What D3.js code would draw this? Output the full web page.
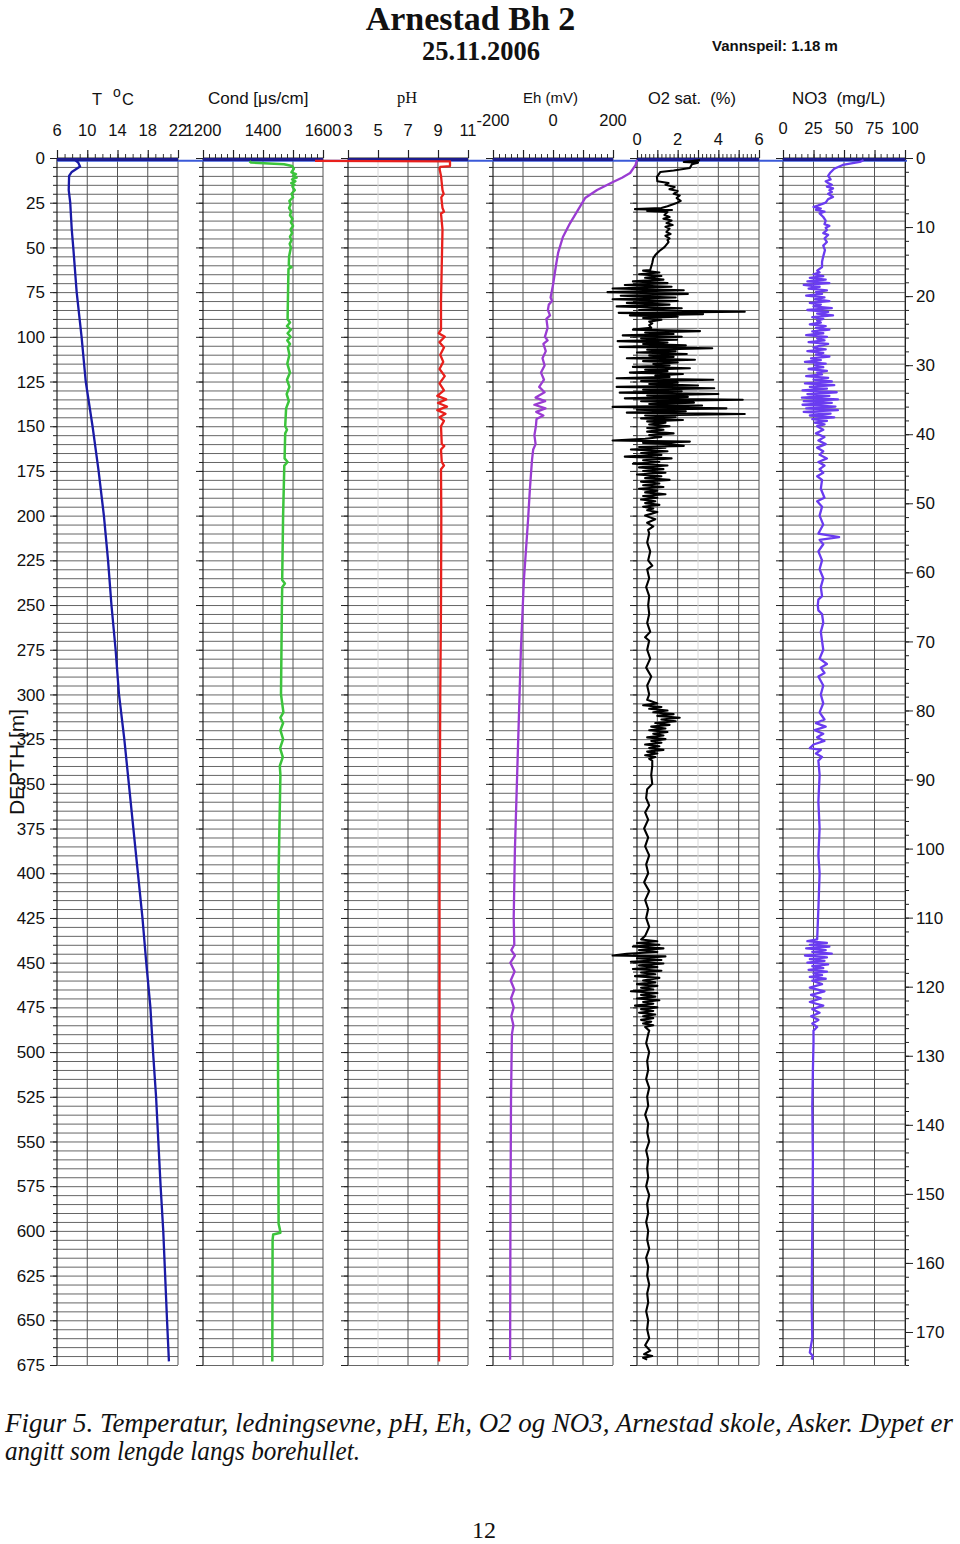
<!DOCTYPE html>
<html><head><meta charset="utf-8">
<script src="https://cdn.jsdelivr.net/npm/d3@7"></script>
<style>body{margin:0;background:#fff}svg{display:block}</style>
</head><body>
<svg id="c" width="960" height="1544"></svg>
<script>
// ---------- DATA: [depth (m), value] ----------
const tempData=[[1.2,8.4],[2.5,8.8],[4.8,9.05],[6.3,8.5],[7.8,7.95],[10,7.6],[18,7.55],[25,7.75],[40,7.95],[50,8.15],[75,8.6],[100,9.25],[125,9.8],[150,10.7],[175,11.5],[200,12.2],[225,12.75],[250,13.2],[275,13.75],[300,14.2],[325,14.9],[350,15.5],[375,16.1],[400,16.7],[425,17.3],[450,17.8],[475,18.35],[500,18.7],[525,19.1],[550,19.4],[575,19.7],[600,20.05],[625,20.3],[650,20.55],[673,20.8]];

const condData=[[1.8,1355],[2.5,1360],[3.5,1470],[4.5,1497],[6,1503],[8,1495],[9,1510],[10,1500],[11,1512],[12,1497],[13,1508],[14,1494],[15,1505],[16,1498],[18,1506],[20,1495],[22,1500],[24,1488],[26,1492],[28,1487],[30,1494],[32,1490],[34,1498],[36,1493],[38,1500],[40,1492],[42,1497],[44,1490],[46,1495],[48,1489],[50,1493],[55,1487],[60,1486],[61,1495],[62,1485],[70,1484],[80,1483],[90,1482],[92,1490],[94,1480],[96,1493],[98,1482],[100,1492],[102,1481],[104,1490],[106,1483],[110,1488],[115,1481],[120,1490],[124,1480],[128,1488],[132,1479],[136,1486],[140,1477],[150,1474],[152,1480],[154,1474],[168,1472],[170,1482],[172,1471],[200,1467],[236,1464],[238,1473],[240,1464],[250,1463],[300,1460],[310,1468],[313,1458],[316,1467],[320,1458],[325,1467],[330,1457],[335,1466],[340,1456],[345,1458],[400,1452],[450,1451],[500,1450],[550,1451],[596,1452],[599,1456],[601,1458],[602,1434],[605,1432],[673,1431]];

const phData=[[1.6,0.8],[1.9,9.8],[4.5,9.8],[5,9.15],[6,9.1],[10,9.2],[14,9.25],[18,9.3],[20,9.38],[22,9.22],[28,9.3],[30,9.4],[31,9.2],[40,9.3],[60,9.25],[80,9.2],[96,9.2],[98,9.05],[100,9.45],[103,9.1],[106,9.4],[110,9.15],[114,9.35],[118,9.1],[122,9.45],[126,9.1],[130,9.4],[133,8.95],[135,9.55],[137,9.0],[139,9.6],[141,8.95],[143,9.5],[145,9.1],[147,9.4],[150,9.2],[160,9.25],[161,9.42],[163,9.2],[170,9.25],[172,9.4],[174,9.2],[200,9.22],[250,9.2],[300,9.15],[400,9.1],[500,9.1],[600,9.08],[673,9.07]];

const ehData=[[1.1,280],[4,275],[8.4,257],[11,230],[13.4,200],[17.9,147],[22.4,107],[29.1,83],[36.4,57],[44.2,33],[53.1,17],[60,10],[71,0],[78,-8],[80,-3],[82,-14],[85,-17],[88,-10],[90,-22],[95,-18],[100,-27],[102,-18],[104,-32],[108,-24],[112,-35],[116,-28],[120,-40],[124,-30],[128,-46],[131,-28],[134,-58],[136,-26],[138,-62],[140,-25],[142,-56],[144,-32],[146,-55],[150,-57],[155,-62],[160,-58],[163,-66],[169,-70],[185,-77],[202,-83],[236,-97],[275,-107],[331,-117],[387,-127],[425,-131],[440,-129],[443,-139],[446,-127],[450,-142],[455,-128],[460,-141],[465,-129],[470,-140],[475,-131],[480,-139],[485,-132],[490,-137],[527,-140],[600,-142],[672,-143]];

const o2Data=[[1.2,3.1],[2.2,2.3],[2.6,3.0],[3.5,2.7],[5.6,2.6],[7.0,1.8],[7.8,1.15],[10.6,0.98],[13.0,1.0],[14,1.55],[15,1.4],[16.2,1.85],[17.5,1.6],[18.5,2.0],[20,1.8],[21,2.1],[22.4,1.95],[24,2.15],[25.2,1.95],[27,1.5],[28,1.2],[28.6,-0.1],[29.1,1.72],[29.6,0.5],[30.2,1.5],[31.9,1.35],[33,1.6],[34,1.3],[35,1.7],[36.4,1.45],[37.5,1.75],[38.5,1.4],[39.5,1.6],[41.4,1.45],[42.5,1.65],[43.5,1.4],[45,1.6],[45.9,1.5],[47,1.55],[49.8,1.35],[52,1.1],[54.3,0.9],[56,0.8],[58.7,0.75],[62.6,0.65],
[63,0.3],[64,1.1],[65,0.1],[66,1.2],[67,0.4],[68,1.3],[69,-0.2],[70,1.5],[71,-0.6],[72,1.7],[73,-1.2],[74,2.3],[75,-1.45],[76,2.5],[77,-0.8],[78,1.9],[79,-1.2],[80,2.0],[81,-0.5],[82,1.6],[83,-1.0],[84,2.2],[85,0.1],[86,5.3],[86.6,-0.9],[87.3,3.25],[88,-0.35],[88.8,2.0],[89.5,0.3],[90.5,1.2],[91.5,0.6],[92.5,0.75],[93.5,0.6],[95,0.7],
[96,-0.2],[96.8,3.1],[97.6,0.4],[98.4,1.8],[99.2,-0.7],[100,2.2],[100.8,0.2],[101.6,1.97],[102.4,-0.95],[103.2,1.5],[104,0.3],[104.8,2.4],[105.6,-0.85],[106.4,3.7],[107.2,0.5],[108,1.9],[108.8,0.0],[109.6,2.45],[110.4,0.6],[111.2,1.8],[112,-0.5],[112.8,2.85],[113.6,0.3],[114.4,2.0],[115.2,0.8],[116,1.6],[116.8,-0.2],[117.6,2.6],[118.4,0.4],[119.2,1.5],[120,-0.35],[120.8,2.26],[121.6,0.9],[122.4,1.6],[123.2,-1.0],[124,3.75],[124.8,0.2],[125.6,2.0],[126.4,0.6],[127.2,3.0],[128,-1.0],[128.8,3.8],[129.6,0.3],[130.4,2.2],[131.2,-0.85],[132,4.0],[132.8,0.5],[133.6,2.5],[134.4,-0.6],[135.2,5.2],[136,0.2],[136.8,2.8],[137.6,0.6],[138.4,3.2],[139.2,-1.2],[140,4.4],[140.8,0.0],[141.6,2.4],[142.4,-0.5],[143.2,5.3],[144,0.4],[144.8,1.9],[145.6,0.2],[146.5,2.26],[147.3,0.5],[148,1.4],[149,0.6],[150,1.6],[151,0.5],[152,1.3],[153,0.5],[154,1.8],[155,0.6],[156,1.2],[157,0.4],
[158,-1.2],[158.6,2.6],[159.3,0.3],[160,1.6],[161,2.3],[161.6,0.1],[162,1.4],[163,-0.3],[164,1.5],[165,0.2],[166,1.2],[167,-0.6],[168,1.7],[169,0.3],[170,1.1],[171,-0.2],[172,1.5],[173,0.1],[174,1.3],[175,0.3],[176,1.4],[177,0.0],[178,1.2],[179,0.4],[180,1.6],[181,0.2],[182,1.1],[183,0.3],[184,1.3],[185,0.1],[186,1.0],[187,0.4],[188,1.4],[189,0.3],[190,1.0],[191,0.2],[192,0.9],[193,0.4],[194,1.1],[195,0.3],[196,0.8],[197,0.5],[198,1.0],[200,0.4],[202,0.9],[204,0.5],[206,0.8],[208,0.55],
[210,0.6],[215,0.5],[220,0.65],[225,0.55],[228,0.75],[230,0.5],[235,0.6],[240,0.45],[245,0.6],[250,0.55],[255,0.6],[260,0.5],[265,0.65],[268,0.4],[270,0.6],[275,0.5],[280,0.65],[285,0.45],[290,0.7],[295,0.5],[300,0.6],
[303,0.5],[305,1.0],[306,0.3],[307,1.2],[308,0.6],[309,1.5],[310,0.8],[311,1.8],[312,1.0],[313,2.1],[314,1.2],[315,1.9],[316,0.9],[317,1.6],[318,0.7],[319,1.4],[320,0.6],[321,1.5],[322,0.8],[323,1.3],[324,0.5],[325,1.4],[326,0.7],[327,1.2],[328,0.4],[329,1.1],[330,0.6],[331,1.3],[332,0.5],[333,1.0],[334,0.4],[335,0.9],[336,0.6],[337,0.75],
[340,0.75],[345,0.7],[350,0.75],[353,0.5],[358,0.45],[362,0.6],[366,0.4],[370,0.55],[375,0.35],[380,0.55],[385,0.4],[390,0.6],[395,0.45],[400,0.55],[405,0.35],[410,0.6],[415,0.4],[420,0.55],[425,0.45],[430,0.6],[435,0.4],
[437,0.2],[438,1.0],[439,0.0],[440,1.1],[441,-0.2],[442,1.3],[443,0.1],[444,1.0],[445,-0.5],[446,-1.2],[446.5,1.4],[447.5,0.0],[448.5,1.2],[449.5,-0.3],[450.5,1.3],[451.5,0.1],[452.5,1.0],[453.5,-0.2],[454.5,1.2],[455.5,0.2],[456.5,0.9],[457.5,-0.1],[458.5,1.1],[460,0.3],[461,0.9],[462,0.0],[463,1.0],[464,0.2],[465,0.8],[466,-0.3],[467,1.0],[468,0.2],[469,0.9],[470,0.0],[471,1.1],[472,0.3],[473,0.8],[474,-0.1],[475,1.0],[476,0.2],[477,0.8],[478,0.1],[479,0.9],[480,0.3],[481,0.8],[482,0.2],[483,0.7],[484,0.3],[485,0.8],[486,0.4],[488,0.6],
[490,0.55],[495,0.45],[500,0.6],[505,0.5],[510,0.55],[515,0.45],[520,0.6],[525,0.5],[530,0.55],[535,0.4],[540,0.55],[545,0.5],[550,0.6],[555,0.45],[560,0.55],[565,0.5],[570,0.55],[575,0.45],[580,0.6],[585,0.5],[590,0.55],[595,0.45],[600,0.55],[605,0.5],[610,0.6],[615,0.45],[620,0.55],[625,0.5],[630,0.6],[635,0.5],[640,0.55],[645,0.45],[650,0.55],[655,0.5],[660,0.6],[664,0.4],[667,0.65],[669,0.35],[670,0.75],[671,0.3],[672,0.5]];

const no3Data=[[1.2,66],[2.2,63],[3.9,49],[6,42],[8.4,38.5],[10,37],[12,39],[13,35],[14,37],[15,40],[16,36],[17,41],[18,38],[19,40],[20,37],[21.8,41],[23,37],[25,35],[26.5,29],[27.4,25],[28.3,31],[29,27],[30,34],[31,30],[33,33],[35,35],[37,34],[38,38],[39,35],[40.3,36],[42,33],[43,37],[45,34],[47,36],[49,33],[51.5,34.4],[55,33],[58,32],[61,32],[63,28],[64,30],[65,25],[66,33],[67,22],[68,35],[69,20],[70,38],[71,17],[72,30],[73,21],[74,36],[75,27],[76,32],[77,19],[78,34],[79,26],[80,38],[81,22],[82,31],[83,25],[84,40],[85,20],[86,37],[87,28],[88,41],[89,24],[90,33],[91,28],[92,31],
[93,22],[94,35],[95,27],[96,38],[97,24],[98,33],[99,19],[100,36],[101,28],[102,34],[103,21],[104,37],[105,30],[106,25],[107,35],[108,20],[109,33],[110,27],[111,38],[112,23],[113,31],[114,18],[115,35],[116,26],[117,33],[118,21],[119,36],[120,28],[121,32],[122,19],[123,37],[124,25],
[125,40],[126,18],[127,42],[128,22],[129,36],[130,16],[131,44],[132,20],[133,38],[134,15.5],[135,45],[136,17],[137,40],[138,16],[139,43],[140,19],[141,45],[142,17],[143,39],[144,22],[145,42],[146,24],[147,36],[148,26],[149,34],[150,28],
[152,33],[154,27],[156,34],[158,29],[160,35],[162,28],[164,33],[166,30],[168,36],[170,29],[172,34],[174,30],[176,33],[178,28],[180,32],[185,31],[190,34],[192,28],[195,32],[200,30],[205,33],[210,29],[212,46],[213.5,30],[216,33],[220,29],[225,32],[230,30],[235,33],[240,31],[245,32],[247,29],[250,28.5],[253,29],[255,32],[260,33],[265,31],[270,32],[275,33],[280,30],[283,36],[285,31],[288,34],[290,29],[295,33],[300,31],[305,33],[310,30],[314,34],[316,27],[318,35],[320,26],[322,33],[324,28],[326,34],[328,25],[330,22],[331,31],[333,27],[335,32],[337,29],[345,30],[360,29],[375,30],[390,29],[400,30],[420,29],[437,28],
[438,20],[439,36],[440,22],[441,38],[442,19],[443,35],[444,24],[445,40],[446,18],[447,36],[448,22],[449,34],[450,20],[451,37],[452,24],[453,33],[454,21],[455,36],[456,25],[457,32],[458,22],[459,35],[460,24],[462,32],[464,22],[466,34],[468,23],[470,31],[472,22],[474,33],[476,24],[478,30],[480,23],[482,29],[484,24],[486,28],[488,25],[495,25],[510,24.5],[530,24],[560,24.5],[600,24],[640,23.5],[660,24],[668,22],[670,24.5],[672,23.5]];

// ---------- tick labels ----------
const tLabels=[6,10,14,18,22];
const condLabels=[1200,1400,1600];
const phLabels=[3,5,7,9,11];
const ehLabels=[-200,0,200];
const o2Labels=[0,2,4,6];
const no3Labels=[0,25,50,75,100];
const depthLabels=[0,25,50,75,100,125,150,175,200,225,250,275,300,325,350,375,400,425,450,475,500,525,550,575,600,625,650,675];
const rightLabels=[0,10,20,30,40,50,60,70,80,90,100,110,120,130,140,150,160,170];
const waterLevel=1.18;

// ---------- layout ----------
const svg=d3.select('#c');
const TOP=158,BOT=1365;
const y=d3.scaleLinear().domain([0,675]).range([TOP,BOT]);
const yR=d3.scaleLinear().domain([0,174.78]).range([TOP,BOT]);
const SANS="'Liberation Sans', Arial, sans-serif";
const SERIF="'Liberation Serif', 'Times New Roman', serif";

const panels=[
 {x0:57,x1:178,dom:[6,22],labels:tLabels,ly:136,grid:[10,14,18],light:[],minor:1,major:4,data:tempData,color:'#1a1aa6',w:2.3},
 {x0:203,x1:323,dom:[1200,1600],labels:condLabels,ly:136,grid:[1300,1400,1500],light:[],minor:20,major:100,data:condData,color:'#3cc43c',w:2.5},
 {x0:348,x1:468,dom:[3,11],labels:phLabels,ly:136,grid:[7,9],light:[5],minor:null,major:2,data:phData,color:'#e8201c',w:2.3},
 {x0:493,x1:613,dom:[-200,200],labels:ehLabels,ly:126,grid:[-100,0,100],light:[],minor:20,major:100,data:ehData,color:'#9a3cd2',w:2.3},
 {x0:637,x1:759,dom:[0,6],labels:o2Labels,ly:145,grid:[1,2,4,5],light:[3],minor:0.2,major:1,data:o2Data,color:'#000',w:2.1},
 {x0:783,x1:905,dom:[0,100],labels:no3Labels,ly:134,grid:[25,50,75],light:[],minor:5,major:25,data:no3Data,color:'#6a3cf0',w:2.3}
];

const minorDepth=d3.range(0,676,5);
const majorDepth=d3.range(0,676,25);

panels.forEach((p,i)=>{
  const x=d3.scaleLinear().domain(p.dom).range([p.x0,p.x1]);
  p.x=x;
  const g=svg.append('g');
  g.selectAll('line.h').data(minorDepth.filter(d=>d>0)).join('line')
   .attr('x1',p.x0).attr('x2',p.x1).attr('y1',d=>y(d)+0.5).attr('y2',d=>y(d)+0.5)
   .attr('stroke','#666').attr('stroke-width',1);
  g.selectAll('line.l').data(p.light).join('line')
   .attr('x1',d=>x(d)).attr('x2',d=>x(d)).attr('y1',TOP).attr('y2',BOT)
   .attr('stroke','#d8d8d8').attr('stroke-width',1);
  g.selectAll('line.v').data(p.grid).join('line')
   .attr('x1',d=>x(d)).attr('x2',d=>x(d)).attr('y1',TOP).attr('y2',BOT)
   .attr('stroke','#555').attr('stroke-width',1);
  g.append('line').attr('x1',p.x0).attr('x2',p.x0).attr('y1',TOP).attr('y2',BOT).attr('stroke','#222').attr('stroke-width',1.2);
  g.append('line').attr('x1',p.x1).attr('x2',p.x1).attr('y1',TOP).attr('y2',BOT).attr('stroke','#555').attr('stroke-width',1);
  if(p.minor){
    const minors=d3.range(p.dom[0],p.dom[1]+p.minor/2,p.minor);
    svg.append('g').attr('transform',`translate(0,${TOP})`)
      .call(d3.axisTop(x).tickValues(minors).tickSize(4).tickFormat(''))
      .call(a=>a.select('.domain').remove()).selectAll('line').attr('stroke','#333');
  }
  const majors=d3.range(p.dom[0],p.dom[1]+p.major/2,p.major);
  svg.append('g').attr('transform',`translate(0,${TOP})`)
    .call(d3.axisTop(x).tickValues(majors).tickSize(8).tickFormat(''))
    .call(a=>a.select('.domain').remove()).selectAll('line').attr('stroke','#222').attr('stroke-width',1.2);
  svg.append('line').attr('x1',p.x0).attr('x2',p.x1).attr('y1',TOP).attr('y2',TOP).attr('stroke','#222');
  svg.append('g').attr('transform',`translate(${p.x0},0)`)
    .call(d3.axisLeft(y).tickValues(minorDepth).tickSize(4).tickFormat(''))
    .call(a=>a.select('.domain').remove()).selectAll('line').attr('stroke','#222');
  svg.append('g').attr('transform',`translate(${p.x0},0)`)
    .call(d3.axisLeft(y).tickValues(majorDepth).tickSize(7).tickFormat(''))
    .call(a=>a.select('.domain').remove()).selectAll('line').attr('stroke','#222');
  svg.append('g').selectAll('text').data(p.labels).join('text')
    .attr('x',d=>x(d)).attr('y',p.ly).attr('text-anchor','middle')
    .attr('font-family',SANS).attr('font-size',16.5).attr('fill','#111').text(d=>d);
});

// right axis
svg.append('g').attr('transform','translate(905,0)')
  .call(d3.axisRight(yR).tickValues(d3.range(0,175,2)).tickSize(4).tickFormat(''))
  .call(a=>a.select('.domain').attr('stroke','#222')).selectAll('line').attr('stroke','#222');
svg.append('g').attr('transform','translate(905,0)')
  .call(d3.axisRight(yR).tickValues(rightLabels).tickSize(8).tickFormat(''))
  .call(a=>a.select('.domain').remove()).selectAll('line').attr('stroke','#222');
svg.append('g').selectAll('text').data(rightLabels).join('text')
  .attr('x',916).attr('y',d=>yR(d)).attr('dy','0.36em')
  .attr('font-family',SANS).attr('font-size',17).attr('fill','#111').text(d=>d);

// left depth labels
svg.append('g').selectAll('text').data(depthLabels).join('text')
  .attr('x',45).attr('y',d=>y(d)).attr('dy','0.36em').attr('text-anchor','end')
  .attr('font-family',SANS).attr('font-size',17).attr('fill','#111').text(d=>d);

// water level line
svg.append('line').attr('x1',57).attr('x2',907).attr('y1',y(waterLevel)+0.6).attr('y2',y(waterLevel)+0.6)
  .attr('stroke','#3a5ad8').attr('stroke-width',2);
panels.forEach(p=>{
  svg.append('line').attr('x1',p.x0).attr('x2',p.x1).attr('y1',y(waterLevel)-0.6).attr('y2',y(waterLevel)-0.6)
    .attr('stroke','#1c1c8e').attr('stroke-width',3.2);
});

// curves
panels.forEach(p=>{
  const line=d3.line().x(d=>p.x(d[1])).y(d=>y(d[0]));
  svg.append('path').datum(p.data).attr('d',line).attr('fill','none')
    .attr('stroke',p.color).attr('stroke-width',p.w).attr('stroke-linejoin','round');
});

// axis title
svg.append('text').attr('transform','translate(24,762) rotate(-90)').attr('text-anchor','middle')
  .attr('font-family',SANS).attr('font-size',21).attr('fill','#111').text('DEPTH [m]');

// header labels
const hdr=svg.append('g').attr('font-family',SANS).attr('fill','#111');
hdr.append('text').attr('x',92).attr('y',105).attr('font-size',16.5).text('T');
hdr.append('text').attr('x',113).attr('y',97).attr('font-size',14).text('o');
hdr.append('text').attr('x',122).attr('y',105).attr('font-size',16.5).text('C');
hdr.append('text').attr('x',208).attr('y',104).attr('font-size',17).text('Cond [μs/cm]');
hdr.append('text').attr('x',397).attr('y',103).attr('font-size',16.5).attr('font-family',SERIF).text('pH');
hdr.append('text').attr('x',523).attr('y',103).attr('font-size',15).text('Eh (mV)');
hdr.append('text').attr('x',648).attr('y',104).attr('font-size',16.5).style('white-space','pre').text('O2 sat.  (%)');
hdr.append('text').attr('x',792).attr('y',104).attr('font-size',17).style('white-space','pre').text('NO3  (mg/L)');

// titles
svg.append('text').attr('x',470.5).attr('y',30).attr('text-anchor','middle').attr('font-family',SERIF)
  .attr('font-weight','bold').attr('font-size',34).attr('fill','#111').text('Arnestad Bh 2');
svg.append('text').attr('x',481).attr('y',60).attr('text-anchor','middle').attr('font-family',SERIF)
  .attr('font-weight','bold').attr('font-size',26.5).attr('fill','#111').text('25.11.2006');
svg.append('text').attr('x',712).attr('y',51).attr('font-family',SANS)
  .attr('font-weight','bold').attr('font-size',15).attr('fill','#111').text('Vannspeil: 1.18 m');

// caption
svg.append('text').attr('x',5).attr('y',1432).attr('font-family',SERIF).attr('font-style','italic')
  .attr('font-size',27).attr('fill','#111').attr('textLength',948).attr('lengthAdjust','spacingAndGlyphs')
  .text('Figur 5. Temperatur, ledningsevne, pH, Eh, O2 og NO3, Arnestad skole, Asker. Dypet er');
svg.append('text').attr('x',5).attr('y',1460).attr('font-family',SERIF).attr('font-style','italic')
  .attr('font-size',27).attr('fill','#111').attr('textLength',355).attr('lengthAdjust','spacingAndGlyphs')
  .text('angitt som lengde langs borehullet.');
svg.append('text').attr('x',484).attr('y',1538).attr('text-anchor','middle').attr('font-family',SERIF)
  .attr('font-size',24).attr('fill','#111').text('12');
</script>
</body></html>
